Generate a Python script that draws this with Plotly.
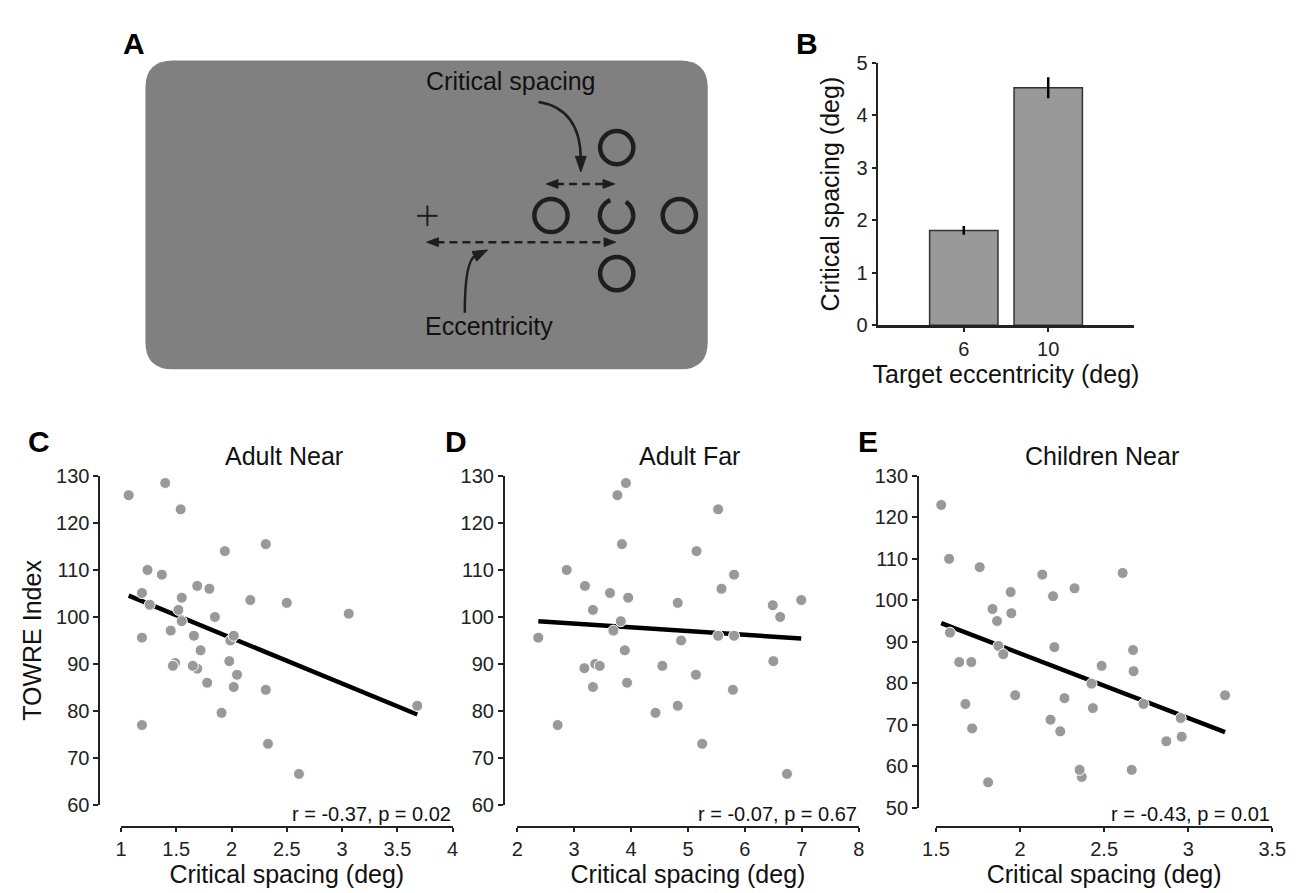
import numpy as np
import plotly.graph_objects as go

W, H = 1300, 893
FONT = "Liberation Sans, Arial, Helvetica, sans-serif"
INK = "#222222"

# ---------------- data ----------------
bar_ecc = ["6", "10"]
bar_cs = [1.81, 4.53]
bar_err = [0.085, 0.20]

adult_near_cs = [1.07, 1.40, 1.54, 2.31, 1.94, 1.24, 1.37, 1.69, 1.80, 1.19, 1.55, 2.17, 2.50, 1.26,
                 1.52, 3.06, 1.85, 1.55, 1.45, 1.19, 1.66, 1.99, 2.02, 1.72, 1.98, 1.49, 1.47, 1.69,
                 1.65, 2.05, 1.78, 2.02, 2.31, 3.68, 1.91, 1.19, 2.33, 2.61]
adult_near_towre = [125.9, 128.5, 122.9, 115.5, 114.0, 110.0, 109.0, 106.6, 106.0, 105.1, 104.1, 103.6, 103.0, 102.6,
                    101.5, 100.7, 100.0, 99.1, 97.1, 95.6, 96.0, 95.0, 96.0, 92.9, 90.6, 90.2, 89.6, 89.0,
                    89.6, 87.7, 86.0, 85.1, 84.5, 81.1, 79.6, 77.0, 73.0, 66.6]

adult_far_cs = [2.37, 2.71, 2.87, 3.19, 3.18, 3.33, 3.33, 3.37, 3.45, 3.63, 3.69, 3.76, 3.82, 3.84,
                3.89, 3.91, 3.93, 3.95, 4.43, 4.55, 4.82, 4.82, 4.88, 5.14, 5.15, 5.25, 5.53, 5.53,
                5.59, 5.79, 5.81, 5.81, 6.49, 6.50, 6.62, 6.74, 6.99]
adult_far_towre = [95.6, 77.0, 110.0, 106.6, 89.1, 101.5, 85.1, 90.0, 89.6, 105.1, 97.1, 125.9, 99.1, 115.5,
                   92.9, 128.5, 86.0, 104.1, 79.6, 89.6, 103.0, 81.1, 95.0, 87.7, 114.0, 73.0, 122.9, 96.0,
                   106.0, 84.5, 109.0, 96.0, 102.5, 90.6, 100.0, 66.6, 103.6]

children_near_cs = [1.531, 1.578, 1.760, 2.132, 2.610, 2.324, 1.944, 2.196, 1.836, 1.948, 1.863, 1.583, 2.204,
                    1.871, 2.672, 1.900, 1.638, 1.710, 2.485, 2.675, 2.425, 1.971, 3.219, 1.675, 2.734, 2.264,
                    2.433, 2.955, 2.181, 1.715, 2.239, 2.961, 2.870, 2.367, 2.354, 2.664, 1.810]
children_near_towre = [123.0, 110.0, 108.0, 106.2, 106.6, 102.9, 102.0, 101.0, 97.9, 96.9, 95.0, 92.2, 88.7,
                       89.0, 88.0, 87.0, 85.1, 85.1, 84.2, 82.9, 79.9, 77.1, 77.1, 75.0, 75.0, 76.4,
                       74.0, 71.6, 71.2, 69.1, 68.4, 67.1, 66.0, 57.4, 59.1, 59.1, 56.1]

# regression fits (slope, intercept)
fit_adult_near = (-9.69, 114.9)
fit_adult_far = (-0.80, 101.0)
fit_children_near = (-15.56, 118.3)

stats_adult_near = "r = -0.37, p = 0.02"
stats_adult_far = "r = -0.07, p = 0.67"
stats_children_near = "r = -0.43, p = 0.01"


def px(x):
    return x / W


def py(y):
    return 1 - y / H


fig = go.Figure()

# ---------------- panel B: bars ----------------
fig.add_trace(go.Bar(
    x=bar_ecc, y=bar_cs, width=0.81,
    marker=dict(color="#999999", line=dict(color="#333333", width=1.5)),
    error_y=dict(type="data", array=bar_err, color="#000000", thickness=2.5, width=0),
    xaxis="x", yaxis="y", showlegend=False, hoverinfo="skip"))

# ---------------- scatter panels ----------------
panels = [
    (adult_near_cs, adult_near_towre, fit_adult_near, "x2", "y2"),
    (adult_far_cs, adult_far_towre, fit_adult_far, "x3", "y3"),
    (children_near_cs, children_near_towre, fit_children_near, "x4", "y4"),
]
for xs, ys, (slope, icpt), xa, ya in panels:
    xl = np.array([min(xs), max(xs)])
    fig.add_trace(go.Scatter(x=xl, y=slope * xl + icpt, mode="lines",
                             line=dict(color="#000000", width=4.5),
                             xaxis=xa, yaxis=ya, showlegend=False, hoverinfo="skip"))
    fig.add_trace(go.Scatter(x=xs, y=ys, mode="markers", cliponaxis=False,
                             marker=dict(color="#999999", size=11, line=dict(color="white", width=1)),
                             xaxis=xa, yaxis=ya, showlegend=False))

axis_common = dict(showgrid=False, zeroline=False, showline=True, linecolor=INK, linewidth=2,
                   ticks="outside", ticklen=5, tickwidth=2, tickcolor=INK,
                   tickfont=dict(family=FONT, size=20, color=INK),
                   title_font=dict(family=FONT, size=25, color="#111111"))

y_sc = (1 - 814 / H, 1 - 476.7 / H)
x_pos = 1 - 836.7 / H

fig.update_layout(
    width=W, height=H, margin=dict(l=0, r=0, t=0, b=0),
    paper_bgcolor="white", plot_bgcolor="rgba(0,0,0,0)",
    font=dict(family=FONT, color=INK),
    showlegend=False,
    # B
    xaxis=dict(axis_common, domain=[882.7 / W, 1145 / W], range=[-1.02, 2.02], anchor="y",
               linewidth=2.5, ticklen=4,
               title=dict(text="Target eccentricity (deg)", standoff=4)),
    yaxis=dict(axis_common, domain=[1 - 322.3 / H, 1 - 53.3 / H], range=[0, 5], dtick=1, anchor="x",
               ticklen=4, title=dict(text="Critical spacing (deg)", standoff=10)),
    # C
    xaxis2=dict(axis_common, domain=[109.3 / W, 448.3 / W], range=[1, 4], dtick=0.5,
                anchor="free", position=x_pos, ticklen=4,
                title=dict(text="Critical spacing (deg)", standoff=2)),
    yaxis2=dict(axis_common, domain=list(y_sc), range=[60, 130], dtick=10,
                anchor="free", position=87.3 / W,
                title=dict(text="TOWRE Index", standoff=6)),
    # D
    xaxis3=dict(axis_common, domain=[514.3 / W, 863.3 / W], range=[2, 8], dtick=1,
                anchor="free", position=x_pos, ticklen=4,
                title=dict(text="Critical spacing (deg)", standoff=2)),
    yaxis3=dict(axis_common, domain=list(y_sc), range=[60, 130], dtick=10,
                anchor="free", position=500.7 / W),
    # E
    xaxis4=dict(axis_common, domain=[942.3 / W, 1286 / W], range=[1.5, 3.5], dtick=0.5,
                anchor="free", position=x_pos, ticklen=4,
                title=dict(text="Critical spacing (deg)", standoff=2)),
    yaxis4=dict(axis_common, domain=[1 - 816.7 / H, 1 - 476.7 / H], range=[50, 130], dtick=10,
                anchor="free", position=924 / W),
)

ann = []
# panel letters
for letter, (lx, ly) in {"A": (123, 33), "B": (810, 33), "C": (26, 441),
                         "D": (451.5, 441), "E": (872.5, 441)}.items():
    ann.append(dict(text=f"<b>{letter}</b>", x=px(lx), y=py(ly), xref="paper", yref="paper",
                    showarrow=False, xanchor="center", yanchor="middle",
                    font=dict(family=FONT, size=30, color="#000000")))
# subplot titles
for t, tx in [("Adult Near", 276), ("Adult Far", 690), ("Children Near", 1111.7)]:
    ann.append(dict(text=t, x=px(tx), y=py(456.7), xref="paper", yref="paper", showarrow=False,
                    xanchor="center", yanchor="middle", font=dict(family=FONT, size=25, color="#111111")))
# stats
for t, xa in [(stats_adult_near, "x2"), (stats_adult_far, "x3"), (stats_children_near, "x4")]:
    ann.append(dict(text=t, x=1, y=py(823), xref=f"{xa} domain", yref="paper", showarrow=False,
                    xanchor="right", yanchor="middle", font=dict(family=FONT, size=20, color="#111111")))
# panel A text
ann.append(dict(text="Critical spacing", x=px(507.5), y=py(72), xref="paper", yref="paper", showarrow=False,
                xanchor="center", yanchor="middle", font=dict(family=FONT, size=25, color="#111111")))
ann.append(dict(text="Eccentricity", x=px(485.8), y=py(323), xref="paper", yref="paper", showarrow=False,
                xanchor="center", yanchor="middle", font=dict(family=FONT, size=25, color="#111111")))

# ---------------- panel A: schematic ----------------
shapes = []


def path_of(points, close=False):
    s = "M " + " L ".join(f"{px(x):.5f},{py(y):.5f}" for x, y in points)
    return s + (" Z" if close else "")


# rounded rectangle
x0, y0, x1, y1, r = 134.3, 50.7, 709, 367.3, 28
rr = (f"M {px(x0 + r)},{py(y0)} L {px(x1 - r)},{py(y0)} Q {px(x1)},{py(y0)} {px(x1)},{py(y0 + r)} "
      f"L {px(x1)},{py(y1 - r)} Q {px(x1)},{py(y1)} {px(x1 - r)},{py(y1)} "
      f"L {px(x0 + r)},{py(y1)} Q {px(x0)},{py(y1)} {px(x0)},{py(y1 - r)} "
      f"L {px(x0)},{py(y0 + r)} Q {px(x0)},{py(y0)} {px(x0 + r)},{py(y0)} Z")
shapes.append(dict(type="path", path=rr, xref="paper", yref="paper", fillcolor="#808080",
                   line=dict(width=0), layer="below"))

DARK = "#1e1e1e"
R = 17
for cx, cy in [(616, 140), (548.8, 209.7), (680, 209.7), (616, 269.2)]:
    shapes.append(dict(type="circle", xref="paper", yref="paper",
                       x0=px(cx - R), x1=px(cx + R), y0=py(cy + R), y1=py(cy - R),
                       line=dict(color=DARK, width=4.5)))
# Landolt C (gap at top)
ang = np.radians(np.arange(112, 418.1, 4))
cpts = [(615.8 + R * np.cos(a), 209.7 - R * np.sin(a)) for a in ang]
shapes.append(dict(type="path", path=path_of(cpts), xref="paper", yref="paper",
                   line=dict(color=DARK, width=4.5)))

# fixation cross
shapes.append(dict(type="line", xref="paper", yref="paper", x0=px(412), x1=px(433), y0=py(210), y1=py(210),
                   line=dict(color=DARK, width=2)))
shapes.append(dict(type="line", xref="paper", yref="paper", x0=px(422.5), x1=px(422.5), y0=py(199.5), y1=py(220.5),
                   line=dict(color=DARK, width=2)))


def head(tip, d, length, half):
    d = np.array(d, float)
    d /= np.linalg.norm(d)
    n = np.array([-d[1], d[0]])
    t = np.array(tip, float)
    b = t - d * length
    pts = [tuple(t), tuple(b + n * half), tuple(b - n * half)]
    return dict(type="path", path=path_of(pts, close=True), xref="paper", yref="paper",
                fillcolor=DARK, line=dict(color=DARK, width=1))


# dashed double arrows
for xl, xr, yy in [(544, 614, 177.3), (421.7, 615, 237)]:
    shapes.append(dict(type="line", xref="paper", yref="paper", x0=px(xl + 10), x1=px(xr - 10),
                       y0=py(yy), y1=py(yy), line=dict(color=DARK, width=2.5, dash="8px,5px")))
    shapes.append(head((xl, yy), (-1, 0), 12, 4.5))
    shapes.append(head((xr, yy), (1, 0), 12, 4.5))

# curved arrows
shapes.append(dict(type="path", xref="paper", yref="paper",
                   path=f"M {px(536)},{py(93.3)} Q {px(578.5)},{py(100)} {px(579.3)},{py(151)}",
                   line=dict(color=DARK, width=2.5)))
shapes.append(head((579.3, 165), (0, 1), 16, 5.5))
shapes.append(dict(type="path", xref="paper", yref="paper",
                   path=f"M {px(460.7)},{py(309.3)} Q {px(460.7)},{py(256.2)} {px(471.4)},{py(251.1)}",
                   line=dict(color=DARK, width=2.5)))
shapes.append(head((484, 245), (0.901, -0.433), 15, 5.5))

fig.update_layout(annotations=ann, shapes=shapes)
fig.write_html("out.html")
